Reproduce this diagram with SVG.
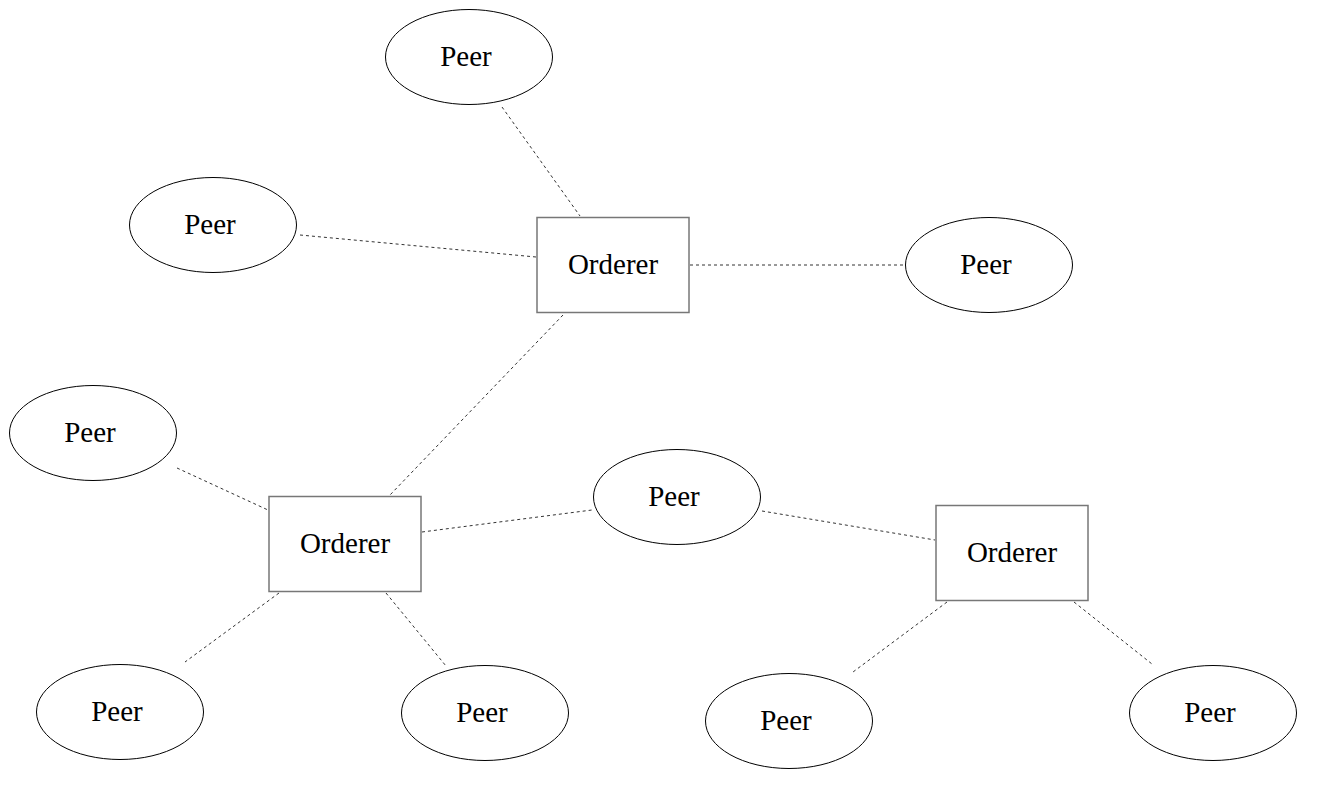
<svg xmlns="http://www.w3.org/2000/svg" width="1337" height="809" viewBox="0 0 1337 809">
<style>
.peer ellipse{fill:#fff;stroke:#000;stroke-width:1}
.ord rect{fill:#fff;stroke:#777;stroke-width:1.5}
text{font-family:'Liberation Serif','Times New Roman',serif;font-size:29px;fill:#000;text-anchor:middle}
.edges line{stroke:#333;stroke-width:1;stroke-dasharray:3,3}
</style>
<rect width="1337" height="809" fill="#fff"/>
<g class="edges" id="connectors">
<line x1="502" y1="107" x2="580" y2="216"/>
<line x1="300" y1="235" x2="536" y2="257"/>
<line x1="690" y1="265" x2="905" y2="265"/>
<line x1="563" y1="315" x2="390" y2="495"/>
<line x1="177" y1="468" x2="268" y2="510"/>
<line x1="422" y1="532" x2="592" y2="510"/>
<line x1="762" y1="511" x2="935" y2="540"/>
<line x1="279" y1="593" x2="185" y2="662"/>
<line x1="386" y1="593" x2="446" y2="666"/>
<line x1="947" y1="602" x2="853" y2="672"/>
<line x1="1074" y1="602" x2="1152" y2="664"/>
</g>
<g class="peer" id="peer1"><ellipse cx="469" cy="57" rx="83.5" ry="47.5"/><text x="466" y="66">Peer</text></g>
<g class="peer" id="peer2"><ellipse cx="213" cy="225" rx="83.5" ry="47.5"/><text x="210" y="234">Peer</text></g>
<g class="peer" id="peer3"><ellipse cx="989" cy="265" rx="83.5" ry="47.5"/><text x="986" y="274">Peer</text></g>
<g class="peer" id="peer4"><ellipse cx="93" cy="433" rx="83.5" ry="47.5"/><text x="90" y="442">Peer</text></g>
<g class="peer" id="peer5"><ellipse cx="677" cy="497" rx="83.5" ry="47.5"/><text x="674" y="506">Peer</text></g>
<g class="peer" id="peer6"><ellipse cx="120" cy="712" rx="83.5" ry="47.5"/><text x="117" y="721">Peer</text></g>
<g class="peer" id="peer7"><ellipse cx="485" cy="713" rx="83.5" ry="47.5"/><text x="482" y="722">Peer</text></g>
<g class="peer" id="peer8"><ellipse cx="789" cy="721" rx="83.5" ry="47.5"/><text x="786" y="730">Peer</text></g>
<g class="peer" id="peer9"><ellipse cx="1213" cy="713" rx="83.5" ry="47.5"/><text x="1210" y="722">Peer</text></g>
<g class="ord" id="orderer1"><rect x="537" y="217.5" width="152" height="95"/><text x="613" y="274">Orderer</text></g>
<g class="ord" id="orderer2"><rect x="269" y="496.5" width="152" height="95"/><text x="345" y="553">Orderer</text></g>
<g class="ord" id="orderer3"><rect x="936" y="505.5" width="152" height="95"/><text x="1012" y="562">Orderer</text></g>
</svg>
